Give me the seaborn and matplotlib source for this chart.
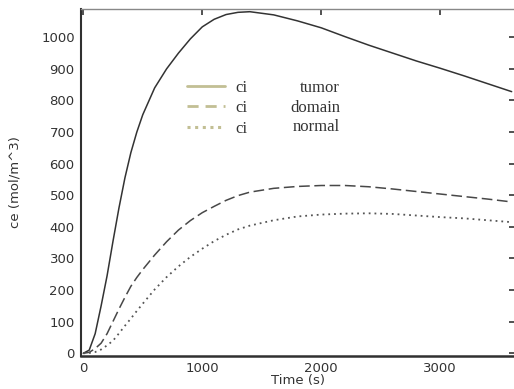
import numpy as np
import pandas as pd
import matplotlib
matplotlib.use("Agg")
import matplotlib.pyplot as plt
import seaborn as sns
from matplotlib.lines import Line2D

# ---- data ----
time_s = [0, 50, 100, 150, 200, 250, 300, 350, 400, 450, 500, 600, 700, 800, 900,
          1000, 1100, 1200, 1300, 1400, 1600, 1800, 2000, 2200, 2400, 2600, 2800,
          3000, 3200, 3400, 3600]
ci_tumor = [0, 10, 62, 150, 245, 355, 460, 555, 635, 700, 755, 840, 900, 950, 995,
            1033, 1057, 1072, 1079, 1081, 1071, 1052, 1030, 1002, 975, 950, 925,
            902, 878, 853, 828]
ci_domain = [0, 3, 15, 32, 62, 101, 140, 177, 212, 240, 265, 311, 353, 390, 420,
             445, 465, 484, 499, 510, 522, 528, 531, 531, 527, 520, 512,
             504, 496, 488, 479]
ci_normal = [0, 1, 4, 12, 25, 40, 63, 87, 110, 134, 157, 202, 241, 275, 305,
             331, 355, 375, 392, 404, 421, 433, 439, 442, 443, 441, 436,
             431, 427, 421, 415]
series_names = ["tumor", "domain", "normal"]
legend_prefix = "ci"
x_ticks = [0, 1000, 2000, 3000]
y_ticks = [0, 100, 200, 300, 400, 500, 600, 700, 800, 900, 1000]
x_label = "Time (s)"
y_label = "ce (mol/m^3)"

df = pd.DataFrame({
    "time": time_s * 3,
    "ce": ci_tumor + ci_domain + ci_normal,
    "series": sum([[n] * len(time_s) for n in series_names], []),
})

sns.set_style("white")
plt.rcParams["font.family"] = ["DejaVu Sans"]

W, H = 514, 389
fig = plt.figure(figsize=(W / 100, H / 100), dpi=100)
ax = fig.add_axes([81 / W, (H - 355.7) / H, 434 / W, 346.4 / H])

styles = {
    "tumor": dict(linestyle="-", linewidth=1.1, color="#333333"),
    "domain": dict(linestyle=(0, (7, 3)), linewidth=1.1, color="#484848"),
    "normal": dict(linestyle=(0, (1, 2.2)), linewidth=1.3, color="#555555"),
}
for name in series_names:
    sub = df[df["series"] == name]
    sns.lineplot(data=sub, x="time", y="ce", ax=ax, legend=False, **styles[name])

ax.set_xlim(-19, 3628)
ax.set_ylim(-7.6, 1088.6)
ax.set_xticks(x_ticks)
ax.set_yticks(y_ticks)

text_color = "#333333"
ax.tick_params(axis="both", which="both", direction="in", length=4, width=1.2,
               colors=text_color, labelsize=9.5, pad=4.5,
               top=True, right=True)
ax.tick_params(axis="x", which="both", top=True, labeltop=False)
ax.tick_params(axis="y", which="both", right=True, labelright=False)

for side in ["left", "bottom", "right"]:
    ax.spines[side].set_color("#303030")
ax.spines["bottom"].set_linewidth(1.8)
ax.spines["left"].set_linewidth(1.5)
ax.spines["top"].set_color("#888888")
ax.spines["top"].set_linewidth(1.0)
ax.spines["right"].set_linewidth(1.0)

ax.set_xlabel(x_label, fontsize=9.5, color=text_color, labelpad=-0.5)
ax.set_ylabel(y_label, fontsize=9.5, color=text_color, labelpad=14)

# legend: khaki sample lines with "ci" labels
legend_color = "#c2bf94"
handles = [
    Line2D([], [], color=legend_color, linestyle="-", linewidth=2),
    Line2D([], [], color=legend_color, linestyle=(0, (4, 2.5)), linewidth=2),
    Line2D([], [], color=legend_color, linestyle=(0, (1, 1.5)), linewidth=2.2),
]
leg = ax.legend(handles, [legend_prefix] * 3, loc="upper left",
                bbox_to_anchor=((187 - 81) / 434, (355.7 - 80) / 346.4),
                frameon=False, borderpad=0, borderaxespad=0,
                handlelength=2.3, handletextpad=0.6, labelspacing=0.26,
                prop={"family": "Liberation Serif", "size": 12})
for t in leg.get_texts():
    t.set_color(text_color)

row_y = [88, 107.5, 127]
for name, yy in zip(series_names, row_y):
    ax.text((340 - 81) / 434, (355.7 - yy) / 346.4, name, transform=ax.transAxes,
            ha="right", va="center", fontsize=12, family="Liberation Serif",
            color=text_color)

fig.savefig("out.png", dpi=100)
